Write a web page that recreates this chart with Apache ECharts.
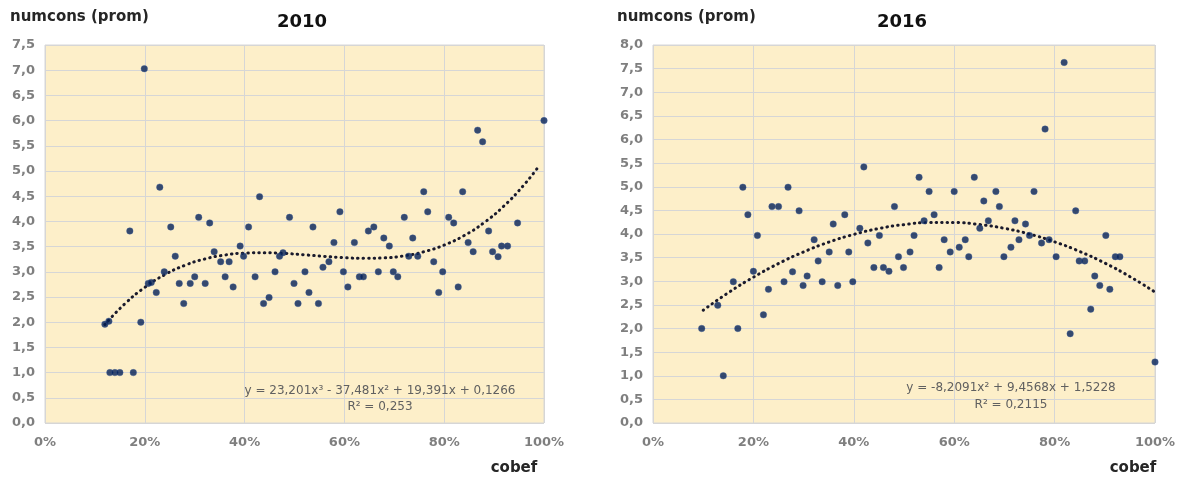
<!DOCTYPE html>
<html><head><meta charset="utf-8">
<script src="https://cdn.jsdelivr.net/npm/echarts@6/dist/echarts.min.js"></script>
<style>html,body{margin:0;padding:0;background:#fff}#c{width:1181px;height:477px}</style>
</head><body><div id="c"></div>
<script>
// ---- 2010 ----
const x2010 = [12.0,12.8,13,14,15,17.7,17,19.2,19.9,20.7,21.3,22.3,23,23.9,25.2,26.1,26.9,27.8,29.1,30,30.8,32.1,33,33.9,35.2,36.1,36.9,37.7,39.1,39.8,40.8,42.1,43,43.8,44.9,46.1,47,47.7,49,49.9,50.7,52.1,52.9,53.7,54.8,55.7,56.9,57.9,59.1,59.8,60.7,62,63,63.8,64.8,65.9,66.8,67.9,69,69.8,70.7,72,72.9,73.7,74.7,75.9,76.7,77.9,78.9,79.7,80.9,81.9,82.8,83.7,84.8,85.8,86.7,87.7,88.9,89.7,90.8,91.5,92.7,94.7,100];
const y2010 = [1.96,2.02,1.0,1.0,1.0,1.0,3.81,2.0,7.03,2.77,2.79,2.59,4.68,3.0,3.89,3.31,2.77,2.37,2.77,2.9,4.08,2.77,3.97,3.4,3.2,2.9,3.2,2.7,3.51,3.31,3.89,2.9,4.49,2.37,2.49,3.0,3.31,3.38,4.08,2.77,2.37,3.0,2.59,3.89,2.37,3.09,3.2,3.58,4.19,3.0,2.7,3.58,2.9,2.9,3.81,3.89,3.0,3.67,3.51,3.0,2.9,4.08,3.31,3.67,3.31,4.59,4.19,3.2,2.59,3.0,4.08,3.97,2.7,4.59,3.58,3.4,5.81,5.58,3.81,3.4,3.3,3.51,3.51,3.97,6.0];
const trend2010X = [12,16,20,24,28,32,36,40,44,48,52,56,60,64,68,72,76,80,84,88,92,96,99];
const trend2010Y = [1.954,2.365,2.691,2.942,3.127,3.254,3.332,3.371,3.379,3.365,3.337,3.306,3.280,3.267,3.276,3.318,3.399,3.531,3.720,3.976,4.309,4.726,5.10];
const eq2010 = ['y = 23,201x³ - 37,481x² + 19,391x + 0,1266', 'R² = 0,253'];

// ---- 2016 ----
const x2016 = [9.7,12.9,14,16,16.9,17.9,18.9,20,20.8,22,23,23.7,25,26.1,26.9,27.8,29.1,29.9,30.7,32.1,32.9,33.7,35.1,35.9,36.8,38.2,39,39.8,41.2,42,42.8,44,45.1,45.9,47,48.1,48.9,49.9,51.2,52,53,54,55,56,57,58,59.2,60,61,62.2,62.9,64,65.1,65.9,66.8,68.3,69,69.9,71.3,72.1,72.9,74.2,75,75.9,77.4,78.1,78.9,80.3,81.9,83.1,84.2,84.9,86,87.2,88,89,90.2,91,92.1,93,100];
const y2016 = [2.0,2.49,1.0,2.99,2.0,4.99,4.41,3.21,3.97,2.29,2.83,4.58,4.58,2.99,4.99,3.2,4.49,2.91,3.11,3.88,3.43,2.99,3.62,4.21,2.91,4.41,3.62,2.99,4.12,5.42,3.81,3.29,3.97,3.29,3.21,4.58,3.52,3.29,3.62,3.97,5.2,4.28,4.9,4.41,3.29,3.88,3.62,4.9,3.72,3.88,3.52,5.2,4.12,4.7,4.28,4.9,4.58,3.52,3.72,4.28,3.88,4.21,3.97,4.9,3.81,6.22,3.88,3.52,7.63,1.89,4.49,3.43,3.43,2.41,3.11,2.91,3.97,2.83,3.52,3.52,1.29];
const trend2016X = [10,15,20,25,30,35,40,45,50,55,60,65,70,75,80,85,90,95,100];
const trend2016Y = [2.387,2.757,3.086,3.374,3.621,3.827,3.992,4.116,4.199,4.241,4.242,4.201,4.120,3.998,3.834,3.630,3.385,3.098,2.771];
const eq2016 = ['y = -8,2091x² + 9,4568x + 1,5228', 'R² = 0,2115'];

const titles = ['2010', '2016'];
const yAxisTitle = 'numcons (prom)';
const xAxisTitle = 'cobef';
const yMax = [7.5, 8.0];

const pair = (xs, ys) => xs.map((v, i) => [v, ys[i]]);

const BG = '#FDEFC9', GRIDC = '#D6D6D6', PT = '#031F57', TREND = '#1a1a2c';
const FONT = 'DejaVu Sans';
const labelStyle = { color: '#7f7f7f', fontFamily: FONT, fontWeight: 'bold', fontSize: 13 };

function xAx(gi) {
  return { gridIndex: gi, type: 'value', min: 0, max: 100, interval: 20,
    axisLabel: Object.assign({ formatter: '{value}%', margin: 13 }, labelStyle),
    axisLine: { show: false }, axisTick: { show: false },
    splitLine: { show: true, lineStyle: { color: GRIDC, width: 1 } } };
}
function yAx(gi, max) {
  return { gridIndex: gi, type: 'value', min: 0, max: max, interval: 0.5,
    axisLabel: Object.assign({ formatter: v => v.toFixed(1).replace('.', ','), margin: 10 }, labelStyle),
    axisLine: { show: false }, axisTick: { show: false },
    splitLine: { show: true, lineStyle: { color: GRIDC, width: 1 } } };
}
function scatter(gi, xs, ys) {
  return { type: 'scatter', xAxisIndex: gi, yAxisIndex: gi, data: pair(xs, ys),
    symbolSize: 6.5, itemStyle: { color: PT, borderColor: '#3a5a96', borderWidth: 0.5 }, z: 3, silent: true };
}
function trend(gi, xs, ys) {
  return { type: 'line', xAxisIndex: gi, yAxisIndex: gi, data: pair(xs, ys), smooth: true,
    showSymbol: false, lineStyle: { color: TREND, width: 3, type: [0.5, 5], cap: 'round' }, z: 2, silent: true };
}
function txt(x, y, text, font, fill, align) {
  return { type: 'text', x: x, y: y, z: 100,
    style: { text: text, font: font, fill: fill, align: align || 'center', verticalAlign: 'middle' } };
}

const chart = echarts.init(document.getElementById('c'), null, { renderer: 'canvas' });
chart.setOption({
  animation: false,
  backgroundColor: '#ffffff',
  grid: [
    { left: 45, right: 637, top: 45, bottom: 54, show: true, backgroundColor: BG, borderColor: GRIDC, borderWidth: 1 },
    { left: 653, right: 26, top: 45, bottom: 54, show: true, backgroundColor: BG, borderColor: GRIDC, borderWidth: 1 }
  ],
  xAxis: [xAx(0), xAx(1)],
  yAxis: [yAx(0, yMax[0]), yAx(1, yMax[1])],
  series: [
    trend(0, trend2010X, trend2010Y), scatter(0, x2010, y2010),
    trend(1, trend2016X, trend2016Y), scatter(1, x2016, y2016)
  ],
  graphic: [
    txt(302, 22, titles[0], 'bold 18px "DejaVu Sans"', '#111'),
    txt(902, 22, titles[1], 'bold 18px "DejaVu Sans"', '#111'),
    txt(10, 17, yAxisTitle, 'bold 15px "DejaVu Sans"', '#262626', 'left'),
    txt(617, 17, yAxisTitle, 'bold 15px "DejaVu Sans"', '#262626', 'left'),
    txt(514, 468, xAxisTitle, 'bold 15px "DejaVu Sans"', '#262626'),
    txt(1133, 468, xAxisTitle, 'bold 15px "DejaVu Sans"', '#262626'),
    txt(380, 391, eq2010[0], '12px "DejaVu Sans"', '#606060'),
    txt(380, 407, eq2010[1], '12px "DejaVu Sans"', '#606060'),
    txt(1011, 388, eq2016[0], '12px "DejaVu Sans"', '#606060'),
    txt(1011, 405, eq2016[1], '12px "DejaVu Sans"', '#606060')
  ]
});
</script></body></html>
